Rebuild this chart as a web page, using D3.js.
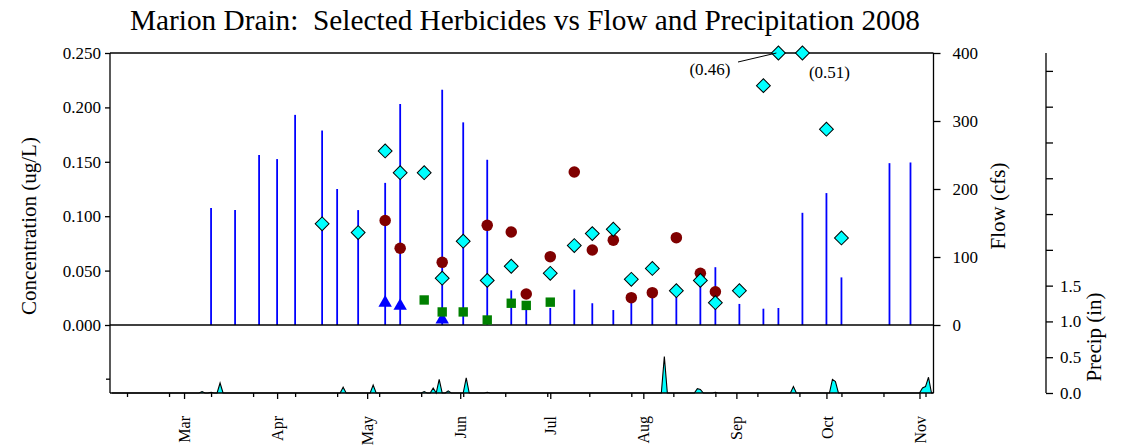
<!DOCTYPE html>
<html>
<head>
<meta charset="utf-8">
<script src="https://cdn.jsdelivr.net/npm/d3@7"></script>
<style>
  html, body { margin: 0; padding: 0; background: #fff; }
  svg { display: block; font-family: "Liberation Serif", "Times New Roman", Times, serif; }
</style>
</head>
<body>
<svg id="chart" width="1128" height="447"></svg>
<script>
// ---- Flow (cfs) on sampling dates ----
const flowDates = ["2008-03-10","2008-03-18","2008-03-26","2008-04-01","2008-04-07","2008-04-16","2008-04-21","2008-04-28",
  "2008-05-07","2008-05-12","2008-05-26","2008-06-02","2008-06-10","2008-06-18","2008-06-23","2008-07-01",
  "2008-07-09","2008-07-15","2008-07-22","2008-07-28","2008-08-04","2008-08-12","2008-08-20","2008-08-25",
  "2008-09-02","2008-09-10","2008-09-15","2008-09-23","2008-10-01","2008-10-06","2008-10-22","2008-10-29"];
const flowCfs = [172, 169, 250, 244, 309, 286, 200, 169,
  209, 325, 346, 298, 243, 51, 30, 25,
  52, 32, 22, 35, 48, 45, 70, 85,
  31, 24, 25, 165, 194, 70, 238, 239];

// ---- Herbicide concentrations (ug/L) ----
const herbADates = ["2008-04-16","2008-04-28","2008-05-07","2008-05-12","2008-05-20","2008-05-26","2008-06-02","2008-06-10",
  "2008-06-18","2008-07-01","2008-07-09","2008-07-15","2008-07-22","2008-07-28","2008-08-04","2008-08-12",
  "2008-08-20","2008-08-25","2008-09-02","2008-09-10","2008-09-15","2008-09-23","2008-10-01","2008-10-06"];
const herbAConc = [0.093, 0.085, 0.160, 0.140, 0.140, 0.043, 0.077, 0.041,
  0.054, 0.0475, 0.073, 0.084, 0.088, 0.042, 0.052, 0.0315,
  0.041, 0.0205, 0.0315, 0.220, 0.46, 0.51, 0.180, 0.080];

const herbBDates = ["2008-05-07","2008-05-12","2008-05-26","2008-06-10","2008-06-18","2008-06-23","2008-07-01","2008-07-09",
  "2008-07-15","2008-07-22","2008-07-28","2008-08-04","2008-08-12","2008-08-20","2008-08-25"];
const herbBConc = [0.096, 0.0705, 0.0576, 0.0916, 0.0855, 0.0285, 0.0628, 0.1406,
  0.0689, 0.078, 0.0251, 0.0297, 0.0803, 0.0475, 0.0306];

const herbCDates = ["2008-05-20","2008-05-26","2008-06-02","2008-06-10","2008-06-18","2008-06-23","2008-07-01"];
const herbCConc = [0.023, 0.012, 0.012, 0.0046, 0.020, 0.018, 0.021];

const herbDDates = ["2008-05-07","2008-05-12","2008-05-26"];
const herbDConc = [0.0204, 0.0175, 0.005];

// ---- Daily precipitation (in); days not listed had none ----
const precipDates = ["2008-03-07","2008-03-10","2008-03-13","2008-04-23","2008-05-03","2008-05-20","2008-05-23","2008-05-25",
  "2008-05-28","2008-06-03","2008-06-10","2008-08-08","2008-08-19","2008-08-20","2008-08-25","2008-09-20",
  "2008-10-03","2008-10-04","2008-11-02","2008-11-03","2008-11-04"];
const precipIn = [0.02, 0.01, 0.14, 0.08, 0.11, 0.02, 0.07, 0.19,
  0.03, 0.21, 0.01, 0.51, 0.06, 0.05, 0.01, 0.09,
  0.19, 0.16, 0.07, 0.09, 0.22];

// ---- Axis ticks ----
const concTicks = [0, 0.05, 0.10, 0.15, 0.20, 0.25];
const flowTicks = [0, 100, 200, 300, 400];
const precipTicks = [0, 0.5, 1.0, 1.5, 2.0, 2.5, 3.0, 3.5, 4.0, 4.5];
const precipLabeled = [0, 0.5, 1.0, 1.5];
const precipLeftTicks = [0.2];
const monthLabels = ["Mar","Apr","May","Jun","Jul","Aug","Sep","Oct","Nov"];

const parse = d3.utcParse("%Y-%m-%d");
const svg = d3.select("#chart");

const L = 110, R = 933.5, TOP = 53, MID = 325, BOT = 393;

const x = d3.scaleUtc()
  .domain([new Date(Date.UTC(2008, 1, 5, 8)), new Date(Date.UTC(2008, 10, 5, 16))])
  .range([L, R]);
const yC = d3.scaleLinear().domain([0, 0.25]).range([MID, TOP]).clamp(true);
const yF = d3.scaleLinear().domain([0, 400]).range([MID, TOP]);
const yP = d3.scaleLinear().domain([0, 4.75]).range([BOT, TOP]);

// ---- Title ----
svg.append("text")
  .attr("x", 525).attr("y", 30)
  .attr("text-anchor", "middle")
  .attr("font-size", 29.3)
  .style("white-space", "pre")
  .attr("xml:space", "preserve")
  .text("Marion Drain:  Selected Herbicides vs Flow and Precipitation 2008");

// ---- Precipitation area (lower panel) ----
const precipMap = new Map(precipDates.map((d, i) => [d, precipIn[i]]));
const days = d3.utcDay.range(x.domain()[0], d3.utcDay.offset(x.domain()[1], 1));
const fmt = d3.utcFormat("%Y-%m-%d");
const daily = days.map(d => ({ date: d, v: precipMap.get(fmt(d)) || 0 }));

svg.append("defs").append("clipPath").attr("id", "plotClip")
  .append("rect").attr("x", L).attr("y", TOP - 10).attr("width", R - L).attr("height", BOT - TOP + 12);

const pg = svg.append("g").attr("clip-path", "url(#plotClip)");
pg.append("path")
  .datum(daily)
  .attr("fill", "#00ffff")
  .attr("d", d3.area().x(d => x(d.date)).y0(yP(0)).y1(d => yP(d.v)));
pg.append("path")
  .datum(daily)
  .attr("fill", "none")
  .attr("stroke", "#000")
  .attr("stroke-width", 1.1)
  .attr("d", d3.line().x(d => x(d.date)).y(d => yP(d.v)));

// ---- Flow sticks ----
svg.append("g").selectAll("line")
  .data(flowDates.map((d, i) => ({ date: parse(d), v: flowCfs[i] })))
  .join("line")
  .attr("x1", d => x(d.date)).attr("x2", d => x(d.date))
  .attr("y1", yF(0)).attr("y2", d => yF(d.v))
  .attr("stroke", "#0000ff").attr("stroke-width", 1.8);

// ---- Frame lines ----
const frame = svg.append("g").attr("stroke", "#000").attr("stroke-width", 1.3).attr("fill", "none");
frame.append("line").attr("x1", L).attr("x2", R).attr("y1", TOP).attr("y2", TOP);
frame.append("line").attr("x1", L).attr("x2", R).attr("y1", MID).attr("y2", MID);
frame.append("line").attr("x1", L).attr("x2", R).attr("y1", BOT).attr("y2", BOT);
frame.append("line").attr("x1", L).attr("x2", L).attr("y1", TOP).attr("y2", BOT);
frame.append("line").attr("x1", R).attr("x2", R).attr("y1", TOP).attr("y2", BOT);

function styleAxis(g, size) {
  g.select(".domain").remove();
  g.selectAll(".tick line").attr("stroke", "#000").attr("stroke-width", 1.3);
  g.selectAll(".tick text").attr("font-size", size).attr("font-family", "Liberation Serif, Times New Roman, serif").attr("fill", "#000");
}

// Concentration axis (left)
svg.append("g").attr("transform", `translate(${L},0)`)
  .call(d3.axisLeft(yC).tickValues(concTicks).tickFormat(d3.format(".3f")).tickSize(5).tickPadding(4))
  .call(g => styleAxis(g, 17));

// Lower panel left tick
svg.append("g").attr("transform", `translate(${L},0)`)
  .call(d3.axisLeft(yP).tickValues(precipLeftTicks).tickFormat("").tickSize(4))
  .call(g => styleAxis(g, 17));

// Flow axis (right)
svg.append("g").attr("transform", `translate(${R},0)`)
  .call(d3.axisRight(yF).tickValues(flowTicks).tickSize(7).tickPadding(12))
  .call(g => styleAxis(g, 17));

// Precip axis (far right)
const PX = 1046;
svg.append("g").attr("transform", `translate(${PX},0)`)
  .call(d3.axisRight(yP).tickValues(precipTicks).tickSize(7).tickPadding(7)
    .tickFormat(d => precipLabeled.includes(d) ? d3.format(".1f")(d) : ""))
  .call(g => styleAxis(g, 17));
svg.append("line").attr("x1", PX).attr("x2", PX).attr("y1", TOP).attr("y2", BOT)
  .attr("stroke", "#000").attr("stroke-width", 1.3);

// Time axis (bottom): month ticks + biweekly minor ticks
const monthStarts = d3.utcMonth.range(new Date(Date.UTC(2008, 2, 1)), new Date(Date.UTC(2008, 10, 2)));
const minor = d3.utcMonday.range(new Date(Date.UTC(2008, 1, 11)), x.domain()[1], 2);
svg.append("g").attr("transform", `translate(0,${BOT})`)
  .call(d3.axisBottom(x).tickValues(minor).tickSize(4).tickFormat(""))
  .call(g => styleAxis(g, 16));
const mAxis = svg.append("g").attr("transform", `translate(0,${BOT})`)
  .call(d3.axisBottom(x).tickValues(monthStarts).tickSize(6).tickFormat((d, i) => monthLabels[i]));
styleAxis(mAxis, 16);
mAxis.selectAll(".tick text")
  .attr("transform", "rotate(-90)")
  .attr("text-anchor", "end")
  .attr("x", -23).attr("y", 0).attr("dy", "0.35em");

// Axis titles
svg.append("text").attr("transform", "translate(36,226) rotate(-90)")
  .attr("text-anchor", "middle").attr("font-size", 21).text("Concentration (ug/L)");
svg.append("text").attr("transform", "translate(1005,206) rotate(-90)")
  .attr("text-anchor", "middle").attr("font-size", 21).text("Flow (cfs)");
svg.append("text").attr("transform", "translate(1101,337) rotate(-90)")
  .attr("text-anchor", "middle").attr("font-size", 21).text("Precip (in)");

// ---- Concentration markers ----
const mk = (dates, vals) => dates.map((d, i) => ({ date: parse(d), v: vals[i] }));
const sym = (type, size) => d3.symbol().type(type).size(size)();

svg.append("g").selectAll("path")
  .data(mk(herbDDates, herbDConc)).join("path")
  .attr("transform", d => `translate(${x(d.date)},${yC(d.v)})`)
  .attr("d", sym(d3.symbolTriangle, 78))
  .attr("fill", "#0000ff");

svg.append("g").selectAll("path")
  .data(mk(herbCDates, herbCConc)).join("path")
  .attr("transform", d => `translate(${x(d.date)},${yC(d.v)})`)
  .attr("d", sym(d3.symbolSquare, 88))
  .attr("fill", "#008000");

svg.append("g").selectAll("path")
  .data(mk(herbBDates, herbBConc)).join("path")
  .attr("transform", d => `translate(${x(d.date)},${yC(d.v)})`)
  .attr("d", sym(d3.symbolCircle, 104))
  .attr("fill", "#800000");

const herbA = mk(herbADates, herbAConc);
svg.append("g").selectAll("path")
  .data(herbA).join("path")
  .attr("transform", d => `translate(${x(d.date)},${yC(d.v)}) rotate(45)`)
  .attr("d", sym(d3.symbolSquare, 96))
  .attr("fill", "#00ffff").attr("stroke", "#000").attr("stroke-width", 1);

// Off-scale values, labelled with their concentrations
const off = herbA.filter(d => d.v > 0.25);
const f2 = d3.format(".2f");
svg.append("text").attr("x", 710).attr("y", 75).attr("text-anchor", "middle")
  .attr("font-size", 17).text(`(${f2(off[0].v)})`);
svg.append("line")
  .attr("x1", 738).attr("y1", 62).attr("x2", x(off[0].date) - 2).attr("y2", yC(off[0].v))
  .attr("stroke", "#000").attr("stroke-width", 1);
svg.append("text").attr("x", x(off[1].date) + 27).attr("y", 78).attr("text-anchor", "middle")
  .attr("font-size", 17).text(`(${f2(off[1].v)})`);
</script>
</body>
</html>
